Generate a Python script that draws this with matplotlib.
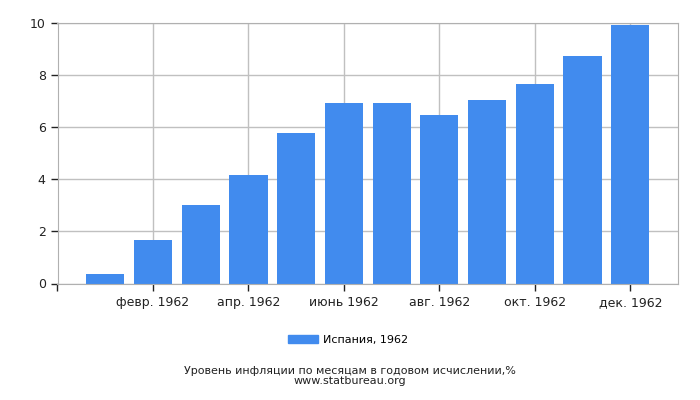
import matplotlib
matplotlib.use("Agg")
import matplotlib.pyplot as plt
import matplotlib.patches as mpatches

months = ["янв. 1962", "февр. 1962", "март 1962", "апр. 1962", "май 1962", "июнь 1962",
          "июль 1962", "авг. 1962", "сент. 1962", "окт. 1962", "нояб. 1962", "дек. 1962"]
values = [0.36, 1.67, 3.0, 4.16, 5.77, 6.92, 6.92, 6.46, 7.03, 7.64, 8.72, 9.90]
series_label = "Испания, 1962"
title = "Уровень инфляции по месяцам в годовом исчислении,%"
source = "www.statbureau.org"
color = "#418bee"

plt.rcParams['font.family'] = ['DejaVu Sans']
fig = plt.figure(figsize=(7, 4), dpi=100)
ax = fig.add_axes([57.5/700, 1-283.5/400, (678-57.5)/700, (283.5-22.5)/400])

x = list(range(len(values)))
ax.bar(x, values, width=0.8, color=color, zorder=2)
ax.set_xlim(-1, 12)
ax.set_ylim(0, 10)
tick_pos = [-1] + x[1::2]
tick_lab = [""] + months[1::2]
ax.set_xticks(tick_pos)
ax.set_xticklabels(tick_lab)
ax.set_yticks([0, 2, 4, 6, 8, 10])
ax.grid(True, color="#c0c0c0", linewidth=1, zorder=0)
for s in ax.spines.values():
    s.set_color("#b0b0b0")
ax.tick_params(axis='both', colors="#222222", labelsize=9, length=5, width=1)
ax.tick_params(axis='x', pad=4)

handle = mpatches.Patch(color=color, label=series_label)
fig.legend(handles=[handle], loc='center', bbox_to_anchor=(0.497, 1-340/400),
           frameon=False, fontsize=8, handlelength=2.7, handleheight=0.8, handletextpad=0.4)
fig.text(0.5, 1-371/400, title, ha='center', va='center', fontsize=8, color="#222222")
fig.text(0.5, 1-381.5/400, source, ha='center', va='center', fontsize=8, color="#222222")

fig.savefig("out.png", dpi=100)
